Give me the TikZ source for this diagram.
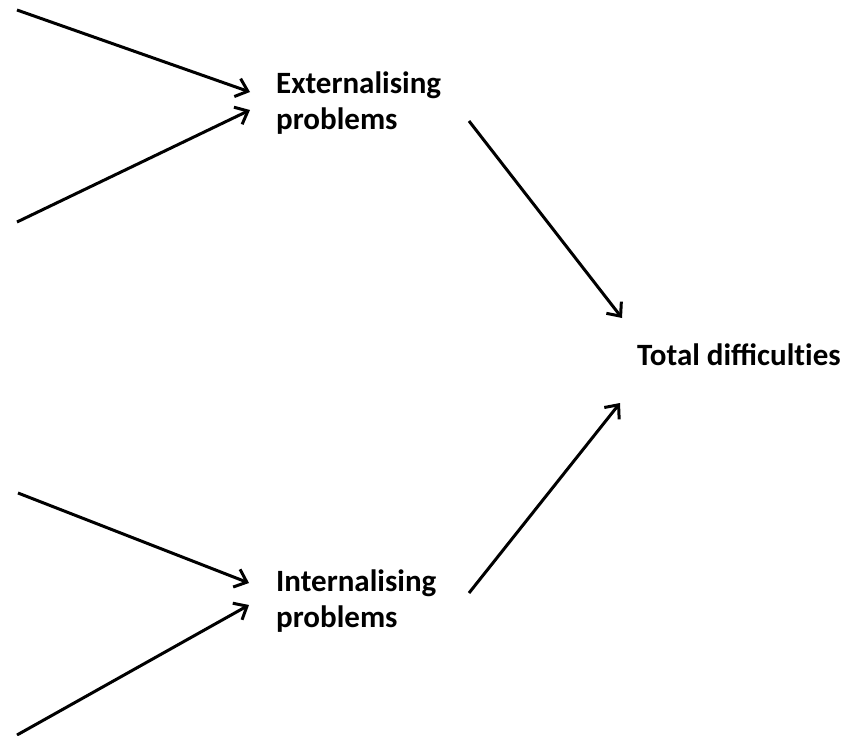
\documentclass[tikz,border=0pt]{standalone}
\usepackage{fontspec}
\setmainfont{Carlito}
\usetikzlibrary{arrows.meta}
\tikzset{
  lbl/.style={font=\bfseries\fontsize{31}{35.5}\selectfont, inner sep=0pt, align=left},
  conn/.style={line width=3pt, -{Straight Barb[length=11pt,width=19pt]}}
}
\begin{document}
\begin{tikzpicture}[x=1pt,y=-1pt]
\useasboundingbox (0,0) rectangle (852,736);
\fill[white] (0,0) rectangle (852,736);
\node[lbl, anchor=base west] (ext) at (276,129) {Externalising\\problems};
\node[lbl, anchor=base west] (int) at (276,627) {Internalising\\problems};
\node[lbl, anchor=base west] (tot) at (637,365) {Total difficult\kern0pt ies};
\coordinate (s1) at (17,10);
\coordinate (t1) at (250,92);
\coordinate (s2) at (17,222);
\coordinate (t2) at (250,110);
\coordinate (s3) at (18,493);
\coordinate (t3) at (249,583);
\coordinate (s4) at (17,735);
\coordinate (t4) at (249,605);
\coordinate (e1) at (469,121);
\coordinate (f1) at (622,318);
\coordinate (e2) at (469,593);
\coordinate (f2) at (620,403);
\draw[conn] (s1) -- (t1);
\draw[conn] (s2) -- (t2);
\draw[conn] (s3) -- (t3);
\draw[conn] (s4) -- (t4);
\draw[conn] (e1) -- (f1);
\draw[conn] (e2) -- (f2);
\end{tikzpicture}
\end{document}
